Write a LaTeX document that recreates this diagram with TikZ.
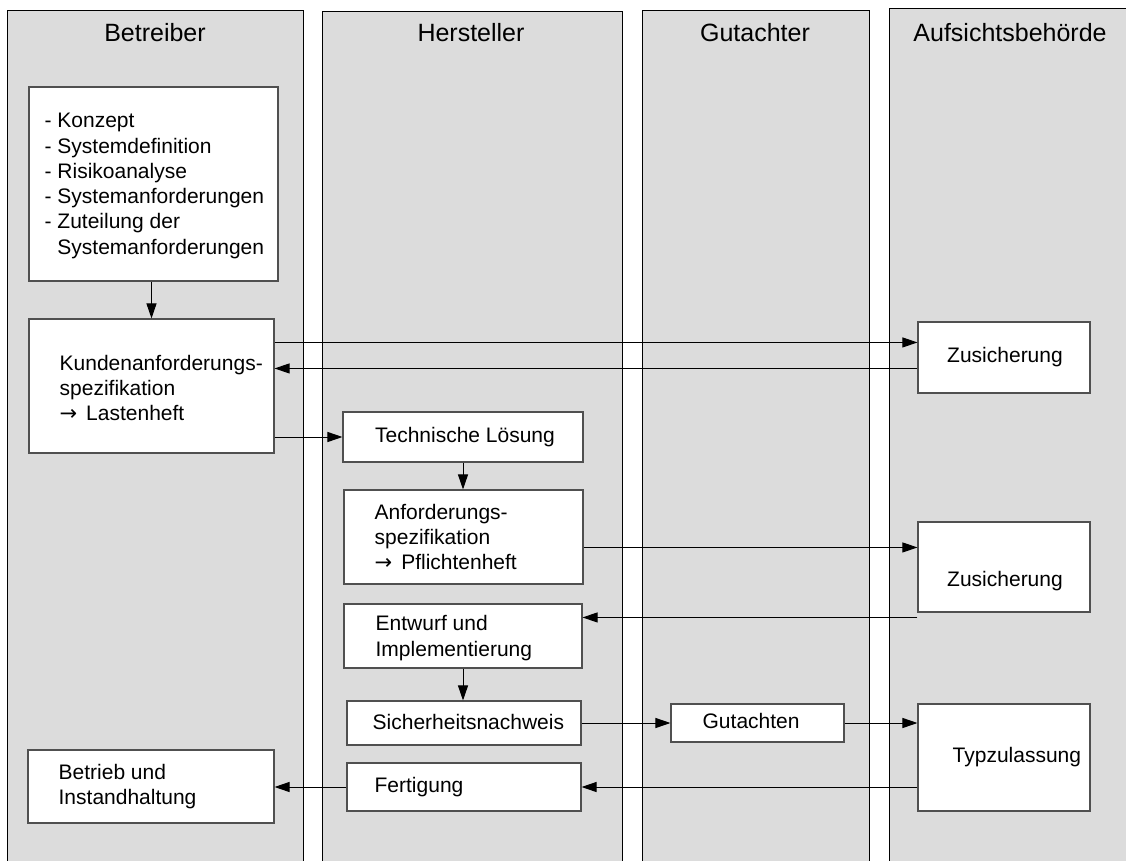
\documentclass[tikz,border=0pt]{standalone}
\usepackage{fontspec}
\setmainfont{Liberation Sans}
\newfontfamily\arrowfont{DejaVu Sans}
\usetikzlibrary{arrows.meta}
\definecolor{lanefill}{RGB}{220,220,220}
\definecolor{boxline}{RGB}{80,80,80}
\newcommand{\rarr}{{\arrowfont →}\hspace{9pt}}
\tikzset{
  lane/.style={draw=black, fill=lanefill, line width=1pt},
  head/.style={font=\fontsize{25pt}{30pt}\selectfont, anchor=base, inner sep=0pt},
  box/.style={draw=boxline, fill=white, line width=1.1pt, inner sep=0pt},
  txt/.style={font=\fontsize{21pt}{25.3pt}\selectfont, align=left, inner sep=0pt, anchor=west},
  ctxt/.style={font=\fontsize{21pt}{25.3pt}\selectfont, align=center, inner sep=0pt},
  arr/.style={draw=black, line width=1pt, -{Triangle[length=15pt,width=10pt]}}
}
\begin{document}
\begin{tikzpicture}[x=1pt,y=-1pt]
\useasboundingbox (0,0) rectangle (1126,861);
\clip (0,0) rectangle (1126,861);
% lanes
\path[lane] (7,11) rectangle (303,880);
\path[lane] (322,12) rectangle (622,880);
\path[lane] (642,11) rectangle (869,880);
\path[lane] (889,9) rectangle (1140,880);
\node[head] (h1) at (155,42) {Betreiber};
\node[head] (h2) at (471,42) {Hersteller};
\node[head] (h3) at (755,42) {Gutachter};
\node[head] (h4) at (1010,42) {Aufsichtsbehörde};
% boxes
\node[box, minimum width=249pt, minimum height=194pt] (b1) at (153.5,184) {};
\node[box, minimum width=245pt, minimum height=134pt] (kunden) at (151.5,386) {};
\node[box, minimum width=240pt, minimum height=50pt] (tech) at (463,437) {};
\node[box, minimum width=239pt, minimum height=94pt] (anf) at (463.5,537) {};
\node[box, minimum width=238pt, minimum height=64pt] (entw) at (463,636) {};
\node[box, minimum width=234pt, minimum height=44pt] (sich) at (464,723) {};
\node[box, minimum width=234pt, minimum height=48pt] (fert) at (464,787) {};
\node[box, minimum width=246pt, minimum height=73pt] (betrieb) at (151,786.5) {};
\node[box, minimum width=173pt, minimum height=38pt] (gut) at (757.5,723) {};
\node[box, minimum width=172pt, minimum height=71pt] (zus1) at (1004,357.5) {};
\node[box, minimum width=172pt, minimum height=90pt] (zus2) at (1004,567) {};
\node[box, minimum width=172pt, minimum height=107pt] (typ) at (1004,757.5) {};
% texts
\node[txt] (t1) at ([xshift=16pt,yshift=-2pt]b1.west) {- Konzept\\- Systemdefinition\\- Risikoanalyse\\- Systemanforderungen\\- Zuteilung der\\\hphantom{- }Systemanforderungen};
\node[txt] (t2) at ([xshift=31pt,yshift=-2pt]kunden.west) {Kundenanforderungs-\\spezifikation\\\rarr Lastenheft};
\node[ctxt] (t3) at ([xshift=2pt]tech.center) {Technische Lösung};
\node[txt] (t4) at ([xshift=31pt]anf.west) {Anforderungs-\\spezifikation\\\rarr Pflichtenheft};
\node[txt] (t5) at ([xshift=32pt,yshift=-2pt]entw.west) {Entwurf und\\Implementierung};
\node[txt] (t6) at ([xshift=26pt,yshift=1pt]sich.west) {Sicherheitsnachweis};
\node[txt] (t7) at ([xshift=28pt]fert.west) {Fertigung};
\node[txt] (t8) at ([xshift=31pt]betrieb.west) {Betrieb und\\Instandhaltung};
\node[txt] (t9) at ([xshift=32pt,yshift=2pt]gut.west) {Gutachten};
\node[ctxt] (t10) at ([xshift=1pt]zus1.center) {Zusicherung};
\node[ctxt] (t11) at ([xshift=1pt,yshift=-14pt]zus2.center) {Zusicherung};
\node[txt] (t12) at ([xshift=35pt]typ.west) {Typzulassung};
% connectors
\draw[arr] (b1.south -| kunden.north) -- (kunden.north);
\draw[arr] ([yshift=-24pt]kunden.north east) -- ([yshift=-21pt]zus1.north west);
\draw[arr] ([yshift=-47pt]zus1.north west) -- ([yshift=-50pt]kunden.north east);
\draw[arr] (kunden.east |- tech.west) -- (tech.west);
\draw[arr] (tech.south) -- (tech.south |- anf.north);
\draw[arr] ([yshift=-58pt]anf.north east) -- ([yshift=-26pt]zus2.north west);
\draw[arr] ([yshift=-96pt]zus2.north west) -- ([yshift=-14pt]entw.north east);
\draw[arr] (entw.south) -- (entw.south |- sich.north);
\draw[arr] (sich.east) -- (gut.west);
\draw[arr] (gut.east) -- (gut.east -| typ.west);
\draw[arr] (typ.west |- fert.east) -- (fert.east);
\draw[arr] (fert.west) -- (fert.west -| betrieb.east);
\end{tikzpicture}
\end{document}
